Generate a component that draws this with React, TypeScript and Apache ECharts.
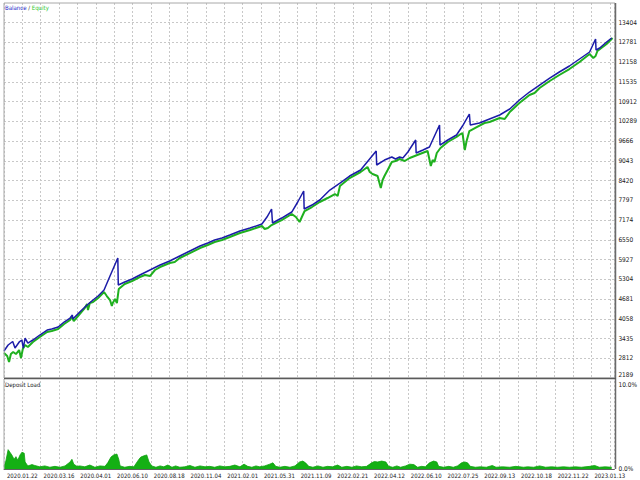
import React, { useEffect, useRef } from "react";
import * as echarts from "echarts";

// X axis: deal number; one grid column = 40 deals, a date label every second column
const dateLabels = [
  "2020.01.22", "2020.03.16", "2020.04.01", "2020.06.10", "2020.08.18", "2020.11.04",
  "2021.02.01", "2021.05.31", "2021.11.09", "2022.02.21", "2022.04.12", "2022.06.10",
  "2022.07.25", "2022.09.13", "2022.10.18", "2022.11.22", "2023.01.13",
];
const priceTicks = [
  2189, 2812, 3435, 4058, 4681, 5304, 5927, 6550, 7174, 7797, 8420, 9043, 9666,
  10289, 10912, 11535, 12158, 12781, 13404,
];
const loadTicks = [0, 10];

// [deal number, balance]
const balance: [number, number][] = [
  [0, 3041], [9, 3230], [19, 3341], [24, 3135], [34, 3341], [39, 3388], [42, 3135],
  [46, 3451], [52, 3293], [63, 3388], [78, 3546], [94, 3704], [104, 3735], [118, 3798],
  [131, 3956], [144, 4082], [149, 4177], [150, 4051], [165, 4272], [181, 4493],
  [194, 4651], [205, 4777], [218, 4966], [231, 5408], [248, 5977], [249, 5124],
  [263, 5219], [279, 5314], [296, 5440], [318, 5598], [340, 5756], [361, 5882],
  [383, 6040], [405, 6198], [427, 6355], [444, 6450], [459, 6545], [475, 6608],
  [492, 6703], [514, 6829], [536, 6924], [562, 7050], [573, 7271], [583, 7524],
  [585, 7082], [605, 7239], [627, 7429], [640, 7745], [653, 8092], [654, 7524],
  [671, 7650], [688, 7808], [710, 8123], [732, 8344], [753, 8565], [777, 8755],
  [811, 9355], [812, 8913], [829, 9070], [845, 9165], [853, 9102], [862, 9165],
  [869, 9134], [880, 9323], [897, 9702], [898, 9292], [913, 9386], [927, 9481],
  [938, 9828], [949, 10175], [950, 9544], [967, 9702], [986, 9860], [999, 10144],
  [1014, 10523], [1016, 10175], [1036, 10239], [1058, 10365], [1080, 10491],
  [1102, 10681], [1123, 10965], [1145, 11217], [1167, 11438], [1189, 11659],
  [1210, 11849], [1232, 12038], [1254, 12259], [1276, 12480], [1289, 12890],
  [1290, 12543], [1298, 12606], [1313, 12796], [1324, 12922],
];

// [deal number, equity]
const equity: [number, number][] = [
  [0, 2978], [7, 2883], [11, 2693], [15, 2946], [20, 3009], [26, 2946], [33, 3072],
  [37, 2820], [41, 3104], [46, 3230], [52, 3167], [63, 3325], [78, 3483], [94, 3640],
  [104, 3672], [118, 3735], [131, 3893], [144, 4019], [148, 4114], [152, 3988],
  [165, 4209], [176, 4398], [181, 4524], [183, 4335], [187, 4556], [194, 4588],
  [205, 4714], [218, 4903], [224, 4777], [231, 4651], [235, 4461], [237, 4556],
  [242, 4682], [246, 4556], [250, 4998], [263, 5156], [279, 5251], [296, 5377],
  [307, 5440], [318, 5408], [329, 5598], [340, 5692], [361, 5819], [372, 5850],
  [383, 5977], [405, 6134], [427, 6292], [444, 6387], [459, 6482], [475, 6545],
  [492, 6640], [514, 6766], [536, 6861], [562, 6987], [568, 6892], [575, 6924],
  [583, 7018], [605, 7176], [627, 7366], [636, 7271], [644, 7113], [649, 7271],
  [655, 7460], [671, 7587], [688, 7745], [705, 7871], [721, 7997], [727, 7934],
  [732, 8250], [753, 8502], [777, 8692], [792, 8850], [797, 8692], [803, 8628],
  [814, 8565], [821, 8187], [825, 8439], [829, 8565], [836, 8755], [845, 9007],
  [853, 9039], [862, 9102], [873, 9039], [884, 9134], [895, 9197], [906, 9260],
  [923, 9355], [930, 8881], [934, 9070], [938, 9007], [943, 9292], [951, 9449],
  [967, 9639], [986, 9797], [995, 9891], [999, 9923], [1004, 9386], [1008, 9670],
  [1014, 9986], [1030, 10112], [1047, 10239], [1058, 10270], [1080, 10396],
  [1091, 10365], [1102, 10586], [1123, 10870], [1145, 11123], [1156, 11186],
  [1167, 11344], [1189, 11565], [1210, 11754], [1232, 11943], [1254, 12164],
  [1276, 12417], [1280, 12354], [1284, 12291], [1289, 12354], [1293, 12512],
  [1313, 12733], [1326, 12922],
];

// [deal number, deposit load %]
const depositLoad: [number, number][] = [
  [0, 0.3], [4, 0.9], [9, 2.2], [13, 1.9], [17, 1.6], [22, 1.1], [26, 1.4], [30, 1.0],
  [35, 1.6], [39, 1.9], [44, 1.8], [46, 0.8], [52, 0.35], [61, 0.5], [67, 0.4],
  [78, 0.25], [89, 0.35], [100, 0.2], [111, 0.3], [122, 0.2], [133, 0.35], [144, 0.8],
  [148, 1.1], [152, 0.55], [159, 0.3], [165, 0.35], [176, 0.25], [187, 0.45],
  [198, 0.2], [209, 0.35], [220, 0.3], [226, 0.7], [233, 1.35], [239, 1.6], [246, 1.7],
  [250, 1.1], [253, 0.35], [263, 0.2], [274, 0.3], [283, 0.25], [290, 0.8], [294, 1.1],
  [298, 1.35], [305, 1.5], [311, 1.6], [316, 0.8], [322, 0.35], [331, 0.2], [340, 0.35],
  [348, 0.25], [357, 0.45], [366, 0.2], [374, 0.35], [383, 0.2], [394, 0.25],
  [405, 0.4], [416, 0.2], [427, 0.35], [438, 0.25], [448, 0.3], [459, 0.2], [470, 0.35],
  [481, 0.25], [492, 0.3], [503, 0.45], [514, 0.25], [523, 0.55], [531, 0.3],
  [540, 0.2], [549, 0.35], [557, 0.25], [568, 0.35], [579, 0.55], [586, 0.7],
  [592, 0.3], [601, 0.2], [612, 0.3], [623, 0.2], [634, 0.35], [644, 0.8], [651, 0.9],
  [657, 0.7], [664, 0.3], [673, 0.2], [684, 0.35], [695, 0.2], [705, 0.3], [716, 0.25],
  [727, 0.45], [736, 0.2], [747, 0.3], [758, 0.2], [768, 0.35], [779, 0.25],
  [790, 0.3], [801, 0.7], [807, 0.85], [814, 0.8], [823, 0.9], [832, 0.8], [838, 0.3],
  [847, 0.2], [856, 0.35], [864, 0.2], [875, 0.35], [884, 0.55], [893, 0.5],
  [901, 0.2], [910, 0.3], [918, 0.25], [927, 0.7], [936, 0.9], [943, 0.8], [947, 0.3],
  [958, 0.2], [969, 0.3], [979, 0.2], [988, 0.35], [997, 0.7], [1004, 0.8],
  [1010, 0.7], [1016, 0.3], [1027, 0.2], [1038, 0.25], [1051, 0.2], [1064, 0.4],
  [1072, 0.2], [1086, 0.25], [1102, 0.2], [1115, 0.3], [1132, 0.2], [1141, 0.25],
  [1154, 0.2], [1167, 0.35], [1180, 0.2], [1193, 0.25], [1206, 0.2], [1219, 0.25],
  [1232, 0.2], [1245, 0.25], [1258, 0.2], [1276, 0.3], [1287, 0.4], [1297, 0.2],
  [1310, 0.25], [1324, 0.2],
];

const DEALS_PER_COLUMN = 40;
const X_MAX = 1330;
const PRICE_MIN = 2189;
const PRICE_MAX = 14027;

const FONT = "'Liberation Sans Narrow', 'DejaVu Sans Condensed', 'Liberation Sans', sans-serif";
const GRID_LINE = { color: "#c8c8c8", type: [2, 2] as number[], width: 1 };
const BLUE = "#1c1ca8";
const GREEN = "#1fb01f";

export default function App() {
  const ref = useRef<HTMLDivElement>(null);

  useEffect(() => {
    const chart = echarts.init(ref.current!, null, { renderer: "svg" });
    chart.setOption({
      animation: false,
      backgroundColor: "#ffffff",
      grid: [
        { left: 4, top: 3, width: 611, height: 375 },
        { left: 4, top: 381, width: 611, height: 88 },
      ],
      xAxis: [
        {
          type: "value",
          gridIndex: 0,
          min: 0,
          max: X_MAX,
          interval: DEALS_PER_COLUMN,
          axisLine: { show: false },
          axisTick: { show: false },
          axisLabel: { show: false },
          splitLine: { show: true, lineStyle: GRID_LINE },
        },
        {
          type: "value",
          gridIndex: 1,
          min: 0,
          max: X_MAX,
          interval: DEALS_PER_COLUMN,
          axisLine: { show: true, lineStyle: { color: "#606060", width: 1 } },
          axisTick: { show: false },
          axisLabel: {
            show: true,
            fontSize: 6,
            fontFamily: FONT,
            color: "#202020",
            margin: 3,
            showMinLabel: false,
            showMaxLabel: false,
            formatter: (v: number) => {
              const k = (v - DEALS_PER_COLUMN) / (2 * DEALS_PER_COLUMN);
              return Number.isInteger(k) && k >= 0 && k < dateLabels.length ? dateLabels[k] : "";
            },
          },
          splitLine: { show: true, lineStyle: GRID_LINE },
        },
      ],
      yAxis: [
        {
          type: "value",
          gridIndex: 0,
          position: "right",
          min: PRICE_MIN,
          max: PRICE_MAX,
          axisLine: { show: false },
          axisTick: { show: false, customValues: priceTicks },
          axisLabel: {
            show: true,
            customValues: priceTicks,
            fontSize: 6.5,
            fontFamily: FONT,
            color: "#202020",
            margin: 4,
            verticalAlignMinLabel: "bottom",
            formatter: (v: number) => String(Math.round(v)),
          },
          splitLine: { show: true, lineStyle: GRID_LINE },
        },
        {
          type: "value",
          gridIndex: 1,
          position: "right",
          min: 0,
          max: 10,
          axisLine: { show: false },
          axisTick: { show: false, customValues: loadTicks },
          axisLabel: {
            show: true,
            customValues: loadTicks,
            fontSize: 6.5,
            fontFamily: FONT,
            color: "#202020",
            margin: 4,
            verticalAlignMaxLabel: "top",
            formatter: (v: number) => v.toFixed(1) + "%",
          },
          splitLine: { show: false },
        },
      ],
      series: [
        {
          name: "Equity",
          type: "line",
          xAxisIndex: 0,
          yAxisIndex: 0,
          data: equity,
          symbol: "none",
          lineStyle: { color: GREEN, width: 2 },
          itemStyle: { color: GREEN },
          z: 2,
        },
        {
          name: "Balance",
          type: "line",
          xAxisIndex: 0,
          yAxisIndex: 0,
          data: balance,
          symbol: "none",
          lineStyle: { color: BLUE, width: 1.5 },
          itemStyle: { color: BLUE },
          z: 3,
        },
        {
          name: "Deposit Load",
          type: "line",
          xAxisIndex: 1,
          yAxisIndex: 1,
          data: depositLoad,
          symbol: "none",
          lineStyle: { color: "#10a010", width: 0.8 },
          itemStyle: { color: "#10a010" },
          areaStyle: { color: "#14b014", opacity: 1 },
          z: 2,
        },
      ],
      graphic: [
        {
          type: "rect",
          shape: { x: 4, y: 3, width: 611, height: 375 },
          style: { fill: "none", stroke: "#a8a8a8", lineWidth: 1 },
          silent: true,
          z: 10,
        },
        {
          type: "line",
          shape: { x1: 4, y1: 469, x2: 4, y2: 379 },
          style: { stroke: "#a8a8a8", lineWidth: 1 },
          silent: true,
          z: 10,
        },
        {
          type: "line",
          shape: { x1: 615.5, y1: 3, x2: 615.5, y2: 469 },
          style: { stroke: "#6a6a6a", lineWidth: 1.5 },
          silent: true,
          z: 10,
        },
        {
          type: "line",
          shape: { x1: 4, y1: 378.5, x2: 616, y2: 378.5 },
          style: { stroke: "#5a5a5a", lineWidth: 1.5 },
          silent: true,
          z: 10,
        },
        {
          type: "text",
          left: 5,
          top: 4,
          style: {
            text: "{b|Balance} / {e|Equity}",
            fontSize: 6,
            fontFamily: FONT,
            fill: "#303030",
            rich: {
              b: { fill: "#2424c8", fontSize: 6, fontFamily: FONT },
              e: { fill: "#2ec82e", fontSize: 6, fontFamily: FONT },
            },
          },
          z: 11,
        },
        {
          type: "text",
          left: 5,
          top: 381,
          style: { text: "Deposit Load", fontSize: 6, fontFamily: FONT, fill: "#202020" },
          z: 11,
        },
      ],
    });
    return () => chart.dispose();
  }, []);

  return (
    <div
      ref={ref}
      style={{ position: "fixed", left: 0, top: 0, width: 640, height: 480, background: "#fff" }}
    />
  );
}
